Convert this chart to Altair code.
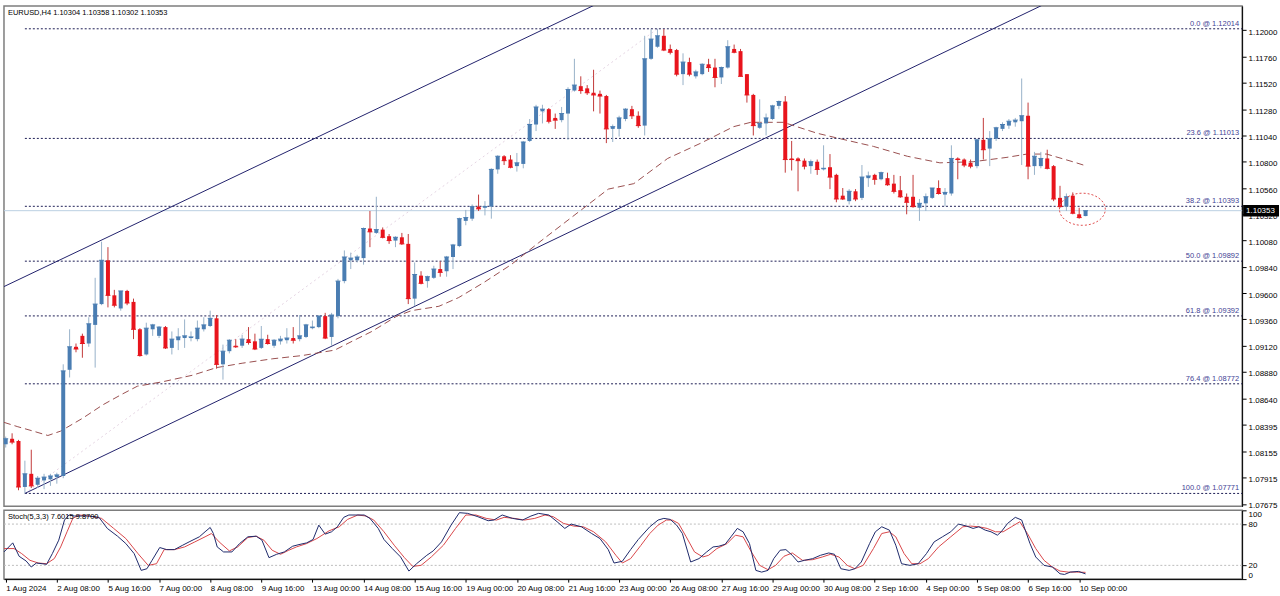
import altair as alt
import pandas as pd

# ---------------- data ----------------
opens = [1.0822,1.0827,1.0825,1.0783,1.0795,1.0785,1.0789,1.0790,1.0792,1.0793,
1.0890,1.0911,1.0921,1.0914,1.0931,1.0950,1.0990,1.0958,1.0946,1.0962,
1.0952,1.0927,1.0904,1.0927,1.0921,1.0929,1.0910,1.0917,1.0919,1.0919,
1.0918,1.0927,1.0930,1.0937,1.0895,1.0907,1.0912,1.0912,1.0918,1.0916,
1.0910,1.0918,1.0912,1.0916,1.0917,1.0919,1.0918,1.0920,1.0928,1.0929,
1.0939,1.0920,1.0939,1.0971,1.0990,1.0990,1.0992,1.1019,1.1015,1.1018,
1.1012,1.1008,1.1011,1.1005,1.0955,1.0976,1.0971,1.0974,1.0982,1.0980,
1.0993,1.1003,1.1026,1.1028,1.1039,1.1038,1.1039,1.1073,1.1085,1.1082,
1.1076,1.1078,1.1099,1.1114,1.1126,1.1128,1.1120,1.1118,1.1124,1.1145,
1.1149,1.1147,1.1143,1.1142,1.1140,1.1110,1.1110,1.1119,1.1128,1.1122,
1.1113,1.1174,1.1185,1.1195,1.1183,1.1182,1.1160,1.1171,1.1158,1.1160,
1.1169,1.1166,1.1157,1.1166,1.1183,1.1181,1.1160,1.1141,1.1111,1.1115,
1.1119,1.1131,1.1135,1.1083,1.1083,1.1081,1.1076,1.1080,1.1073,1.1075,
1.1068,1.1049,1.1044,1.1053,1.1047,1.1065,1.1068,1.1064,1.1065,1.1060,
1.1054,1.1048,1.1048,1.1038,1.1042,1.1047,1.1056,1.1050,1.1051,1.1083,
1.1082,1.1079,1.1076,1.1100,1.1092,1.1101,1.1110,1.1113,1.1116,1.1117,
1.1122,1.1076,1.1076,1.1083,1.1076,1.1047,1.1039,1.1049,1.1032,1.10304]

highs = [1.0829,1.0832,1.0826,1.0807,1.0817,1.0793,1.0795,1.0795,1.0796,1.0895,
1.0927,1.0914,1.0923,1.0938,1.0974,1.1007,1.1002,1.0963,1.0962,1.0963,
1.0955,1.0928,1.0933,1.0932,1.0930,1.0930,1.0925,1.0928,1.0936,1.0925,
1.0935,1.0938,1.0944,1.0940,1.0913,1.0918,1.0918,1.0922,1.0929,1.0923,
1.0930,1.0922,1.0918,1.0921,1.0928,1.0929,1.0940,1.0932,1.0935,1.0940,
1.0942,1.0942,1.0973,1.0999,1.0997,1.0995,1.1020,1.1035,1.1048,1.1020,
1.1014,1.1012,1.1015,1.1014,1.0988,1.0980,1.0976,1.0985,1.0989,1.0994,
1.1005,1.1029,1.1036,1.1041,1.1050,1.1044,1.1074,1.1086,1.1086,1.1086,
1.1088,1.1099,1.1119,1.1132,1.1132,1.1129,1.1124,1.1130,1.1148,1.1174,
1.1158,1.1150,1.1164,1.1145,1.1141,1.1114,1.1122,1.1129,1.1131,1.1126,
1.1195,1.1201,1.12014,1.1201,1.1187,1.1183,1.1179,1.1175,1.1164,1.1170,
1.1174,1.1174,1.1167,1.1191,1.1187,1.1183,1.1160,1.1142,1.1137,1.1124,
1.1132,1.1136,1.1140,1.1099,1.1084,1.1083,1.1082,1.1082,1.1095,1.1087,
1.1069,1.1056,1.1055,1.1055,1.1077,1.1071,1.1069,1.1071,1.1070,1.1068,
1.1067,1.1051,1.1068,1.1046,1.1051,1.1055,1.1063,1.1056,1.1095,1.1084,
1.1083,1.1082,1.1101,1.1120,1.1108,1.1112,1.1116,1.1119,1.1120,1.1156,
1.1134,1.1089,1.1089,1.1091,1.1077,1.1058,1.1051,1.1052,1.1038,1.10358]

lows = [1.0819,1.0822,1.0780,1.07771,1.0782,1.0782,1.0781,1.0784,1.0786,1.0791,
1.0883,1.0906,1.0901,1.0911,1.0892,1.0949,1.0947,1.0947,1.0944,1.0949,
1.0918,1.0902,1.0903,1.0921,1.0919,1.0909,1.0904,1.0908,1.0910,1.0916,
1.0916,1.0925,1.0929,1.0891,1.0881,1.0905,1.0910,1.0910,1.0913,1.0908,
1.0909,1.0913,1.0910,1.0913,1.0914,1.0914,1.0916,1.0919,1.0927,1.0928,
1.0918,1.0912,1.0937,1.0969,1.0982,1.0988,1.0986,1.1002,1.1014,1.1010,
1.1005,1.1002,1.1004,1.0950,1.0948,1.0968,1.0965,1.0973,1.0975,1.0975,
1.0982,1.1002,1.1022,1.1026,1.1035,1.1031,1.1028,1.1069,1.1077,1.1074,
1.1071,1.1074,1.1098,1.1108,1.1115,1.1115,1.1110,1.1116,1.1100,1.1144,
1.1142,1.1141,1.1126,1.1124,1.1097,1.1098,1.1103,1.1117,1.1119,1.1111,
1.1104,1.1173,1.1184,1.1181,1.1178,1.1158,1.1150,1.1158,1.1156,1.1159,
1.1162,1.1148,1.1151,1.1165,1.1179,1.1158,1.1134,1.1104,1.1110,1.1104,
1.1118,1.1128,1.1070,1.1072,1.1053,1.1073,1.1069,1.1068,1.1072,1.1055,
1.1043,1.1045,1.1041,1.1044,1.1045,1.1057,1.1059,1.1063,1.1058,1.1051,
1.1047,1.1032,1.1038,1.1026,1.1035,1.1046,1.1050,1.1039,1.1049,1.1064,
1.1075,1.1074,1.1074,1.1082,1.1076,1.1099,1.1108,1.1110,1.1112,1.1077,
1.1064,1.1068,1.1074,1.1073,1.1044,1.1038,1.1035,1.1032,1.1028,1.10302]

closes = [1.0827,1.0824,1.0783,1.0795,1.0784,1.0791,1.0792,1.0793,1.0794,1.0889,
1.0911,1.0909,1.0914,1.0932,1.0950,1.0990,1.0958,1.0949,1.0962,1.0951,
1.0927,1.0903,1.0928,1.0931,1.0929,1.0910,1.0918,1.0920,1.0921,1.0920,
1.0928,1.0931,1.0937,1.0895,1.0907,1.0917,1.0911,1.0918,1.0915,1.0909,
1.0918,1.0914,1.0917,1.0918,1.0919,1.0917,1.0921,1.0931,1.0929,1.0939,
1.0919,1.0940,1.0971,1.0993,1.0992,1.0993,1.1019,1.1016,1.1018,1.1011,
1.1008,1.1011,1.1005,1.0955,1.0977,1.0969,1.0975,1.0982,1.0979,1.0993,
1.1004,1.1028,1.1029,1.1039,1.1037,1.1039,1.1073,1.1085,1.1081,1.1075,
1.1079,1.1098,1.1114,1.1130,1.1128,1.1117,1.1118,1.1124,1.1146,1.1150,
1.1145,1.1143,1.1141,1.1140,1.1110,1.1112,1.1120,1.1128,1.1122,1.1113,
1.1174,1.1192,1.1195,1.1182,1.1180,1.1160,1.1171,1.1160,1.1162,1.1169,
1.1166,1.1157,1.1166,1.1185,1.1180,1.1158,1.1141,1.1113,1.1115,1.1120,
1.1131,1.1135,1.1082,1.1082,1.1081,1.1076,1.1080,1.1073,1.1074,1.1066,
1.1046,1.1046,1.1053,1.1046,1.1066,1.1067,1.1064,1.1070,1.1059,1.1053,
1.1048,1.1043,1.1039,1.1042,1.1048,1.1056,1.1051,1.1052,1.1083,1.1082,
1.1077,1.1076,1.1100,1.1091,1.1101,1.1111,1.1114,1.1117,1.1118,1.1122,
1.1076,1.1085,1.1083,1.1074,1.1046,1.1039,1.1048,1.1033,1.1029,1.10353]

bar_number = list(range(len(opens)))   # H4 bars from 1 Aug 2024 00:00

date_ticks = [0,8,16,24,32,40,48,56,64,72,80,88,96,104,112,120,128,136,144,152,160,168]
date_labels = ["1 Aug 2024","2 Aug 08:00","5 Aug 16:00","7 Aug 00:00","8 Aug 08:00",
               "9 Aug 16:00","13 Aug 00:00","14 Aug 08:00","15 Aug 16:00","19 Aug 00:00",
               "20 Aug 08:00","21 Aug 16:00","23 Aug 00:00","26 Aug 08:00","27 Aug 16:00",
               "29 Aug 00:00","30 Aug 08:00","2 Sep 16:00","4 Sep 00:00","5 Sep 08:00",
               "6 Sep 16:00","10 Sep 00:00"]

ma_bar = [-0.27,1.9,4.3,6.6,8.6,12.1,15.2,18.3,20.6,24.5,29.2,33.0,37.0,41.7,46.4,51.5,54.2,57.3,
          61.2,63.5,67.8,70.9,74.9,79.1,83.4,87.4,94.3,98.3,103.6,108.8,113.9,116.6,121.7,127.0,
          130.6,135.8,141.1,146.2,151.4,156.7,159.8,162.9,167.0,169.2]
ma_value = [1.0842,1.0838,1.0834,1.0830,1.0834,1.0846,1.0858,1.0868,1.0875,1.0879,1.0885,1.0892,
            1.0896,1.0900,1.0903,1.0908,1.0916,1.0925,1.0939,1.0944,1.0948,1.0956,1.0970,1.0986,
            1.1006,1.1024,1.1055,1.1060,1.1083,1.1097,1.1112,1.1116,1.1116,1.1106,1.1101,1.1094,
            1.1085,1.1079,1.1080,1.1084,1.1087,1.1087,1.1080,1.1076]

k_bar = [-0.27,1.1,2.1,3.2,4.0,4.8,5.7,6.4,7.3,8.3,9.2,9.9,10.8,11.8,13.1,14.6,15.9,17.5,18.8,20.1,
         21.2,22.1,22.9,24.1,25.2,26.4,27.7,28.7,30.3,31.2,32.0,32.5,33.1,34.1,35.4,36.6,37.9,39.2,
         40.1,41.2,42.4,43.6,44.9,45.9,47.1,48.1,49.0,50.0,51.0,51.9,52.9,53.7,54.8,56.1,57.0,58.3,
         59.2,60.5,61.8,63.1,64.3,65.9,66.9,68.2,69.7,71.0,72.3,73.9,75.5,76.4,77.7,79.3,80.9,82.2,
         83.4,85.0,86.3,87.5,88.5,90.1,91.7,93.0,94.3,95.2,96.5,97.8,99.0,100.8,102.1,103.0,104.0,
         105.0,105.9,107.2,108.5,109.7,110.7,111.6,112.6,113.5,114.5,115.4,116.4,117.4,118.3,119.3,
         120.2,121.2,122.1,123.1,124.0,125.0,126.3,127.5,128.8,129.7,130.7,132.0,132.9,133.9,135.2,
         136.1,137.1,138.3,139.3,140.2,141.5,142.8,144.1,145.3,146.6,147.9,149.1,150.4,151.4,152.3,
         153.3,154.2,155.2,155.8,156.8,158.0,159.0,160.3,161.2,162.5,163.8,165.0,165.7,166.6,167.9,
         169.0]
k_value = [39.5,52.7,33.2,26.3,17.6,23.4,22.4,21.5,37.1,56.6,85.9,93.2,91.7,91.7,91.7,89.8,73.7,62.4,
           51.7,37.1,12.7,15.1,27.3,45.9,42.9,42.9,49.3,54.1,61.5,68.8,75.1,66.3,46.8,39.5,39.5,51.7,
           61.5,62.4,56.6,31.2,36.1,39.5,47.8,50.2,52.7,57.6,78.5,65.4,68.8,76.1,89.8,93.2,93.2,93.2,
           88.3,73.7,57.6,44.4,32.2,11.7,22.4,34.6,41.0,54.1,78.5,96.6,95.6,90.7,84.9,85.9,93.2,88.3,
           85.9,91.7,95.6,93.2,83.4,73.7,80.0,76.1,66.3,59.0,42.9,23.4,25.9,42.9,57.6,76.1,85.9,88.3,
           86.8,78.5,66.3,24.9,29.8,39.5,46.8,47.8,50.7,61.5,73.7,68.8,51.7,12.7,10.2,12.7,29.8,42.0,
           42.9,34.6,24.9,27.3,29.8,34.6,38.0,36.1,15.1,12.7,15.1,24.9,51.7,68.8,76.1,71.2,49.3,22.4,
           20.0,22.4,37.1,54.1,61.5,68.8,80.0,77.1,73.7,76.1,71.2,68.8,63.9,68.8,81.0,89.8,85.9,51.7,
           32.2,20.0,17.6,7.8,6.8,10.2,11.2,7.6]

d_bar = [-0.27,1.3,2.5,3.8,5.1,6.4,7.6,8.6,9.6,10.5,11.5,13.1,15.0,16.9,18.8,20.7,22.3,23.6,24.8,26.4,
         28.0,29.6,31.2,32.2,33.4,35.0,36.3,37.9,39.2,40.4,41.7,43.0,44.3,45.5,47.1,48.7,50.6,52.2,
         53.5,55.1,56.4,57.6,59.2,60.8,62.4,63.7,65.0,66.6,68.5,70.4,72.0,73.6,75.2,76.8,78.0,79.6,
         81.2,82.8,84.4,85.7,87.3,88.9,90.4,92.0,93.9,95.5,96.5,97.8,99.4,100.8,102.1,103.4,104.3,
         105.3,106.5,107.8,109.1,110.0,111.3,112.9,114.2,115.4,116.7,118.0,119.3,120.5,121.8,123.1,
         124.7,126.3,127.8,129.1,130.4,131.7,132.9,134.2,135.8,137.1,138.3,139.3,140.6,141.8,143.1,
         144.4,146.0,147.9,149.8,151.0,152.3,153.6,154.9,156.1,157.4,158.7,159.9,161.2,162.5,163.8,
         165.0,166.3,167.6,169.0]
d_value = [44.4,44.4,37.1,27.3,23.4,22.4,29.8,46.8,68.8,88.3,93.2,91.7,88.3,73.7,59.0,37.1,20.0,22.4,
           42.9,42.9,46.8,54.1,61.5,66.3,54.1,41.0,46.8,60.5,62.4,56.6,42.0,36.1,42.0,46.8,51.7,59.0,
           70.2,76.1,86.8,93.2,91.7,85.9,68.8,49.3,31.2,18.5,20.0,32.2,49.3,73.7,93.2,93.2,88.3,85.9,
           89.8,88.3,85.9,88.3,93.2,90.7,81.0,77.1,76.1,68.8,54.1,34.6,23.4,29.8,49.0,66.3,78.5,85.9,
           85.9,81.0,61.5,39.5,32.2,34.6,44.4,51.7,63.9,61.5,39.5,20.0,13.7,20.0,33.2,38.0,27.3,28.3,
           32.2,36.1,32.2,20.0,15.1,20.0,44.4,66.3,68.8,61.5,37.1,22.4,22.4,29.8,46.8,61.5,76.1,77.1,
           76.1,73.7,68.8,68.8,76.1,83.4,66.3,44.4,27.3,17.6,11.7,10.2,10.2,9.87]

fib_prices = [1.12014, 1.11013, 1.10393, 1.09892, 1.09392, 1.08772, 1.07771]
fib_texts = ["0.0 @ 1.12014", "23.6 @ 1.11013", "38.2 @ 1.10393", "50.0 @ 1.09892",
             "61.8 @ 1.09392", "76.4 @ 1.08772", "100.0 @ 1.07771"]
price_ticks = [1.12000, 1.11760, 1.11520, 1.11280, 1.11040, 1.10800, 1.10560, 1.10320, 1.10080,
               1.09840, 1.09600, 1.09360, 1.09120, 1.08880, 1.08640, 1.08395, 1.08155, 1.07915, 1.07675]

channel_name = ["upper", "upper", "lower", "lower"]
channel_bar = [-0.27, 93.2, 3.0, 162.6]
channel_price = [1.0966, 1.1226, 1.07771, 1.1224]

fib_trend_bar = [3, 102]
fib_trend_price = [1.07771, 1.12014]

last_price = 1.10353
last_text = "1.10353"
title_text = "EURUSD,H4  1.10304 1.10358 1.10302 1.10353"
stoch_text = "Stoch(5,3,3) 7.6015 9.8700"
stoch_levels = [20, 80]
stoch_ticks = [0, 20, 80, 100]
circle_bar = [168.5]
circle_price = [1.10366]

# ---------------- chart ----------------
FONT = "Liberation Sans"
W = 1242
H_MAIN = 502
H_STOCH = 69
X_DOMAIN = [-0.27, 193.5]
Y_DOMAIN = [1.07653, 1.12223]

xs = alt.Scale(domain=X_DOMAIN, nice=False, zero=False)
ys = alt.Scale(domain=Y_DOMAIN, nice=False, zero=False)
y_axis = alt.Axis(values=price_ticks, format=".5f", orient="right", title=None, grid=False,
                  labelFont=FONT, labelFontSize=8, labelColor="#000000", tickSize=4,
                  tickColor="#000000", domainColor="#000000", labelPadding=2, labelOffset=2,
                  labelOverlap=False)

candles = pd.DataFrame({"bar": bar_number, "o": opens, "h": highs, "l": lows, "c": closes})
up = candles[candles["c"] >= candles["o"]]
down = candles[candles["c"] < candles["o"]]

UP_BODY, UP_WICK = "#4a7db2", "#98b2c9"
DN_BODY, DN_WICK = "#e8141c", "#c23a3a"

X = lambda f: alt.X(f, type="quantitative", scale=xs, axis=None)
Y = lambda f: alt.Y(f, type="quantitative", scale=ys, axis=y_axis)

fib_df = pd.DataFrame({"p": fib_prices, "t": fib_texts, "x0": [3] * 7, "x1": [X_DOMAIN[1]] * 7})
fib_lines = alt.Chart(fib_df).mark_rule(color="#1e1e55", strokeDash=[2, 2], strokeWidth=1).encode(
    x=X("x0"), x2="x1", y=Y("p"))
fib_labels = alt.Chart(fib_df).mark_text(align="right", baseline="bottom", dy=-1, font=FONT,
                                         fontSize=7.5, color="#3f3f95").encode(
    x=alt.value(W - 3), y=Y("p"), text="t")

last_df = pd.DataFrame({"p": [last_price], "t": [last_text],
                        "top": [last_price + 0.00052], "bot": [last_price - 0.00052]})
last_line = alt.Chart(last_df).mark_rule(color="#bcd0e2", strokeWidth=1).encode(y=Y("p"))

chan_df = pd.DataFrame({"name": channel_name, "bar": channel_bar, "p": channel_price})
channels = alt.Chart(chan_df).mark_line(color="#22226c", strokeWidth=1, clip=True).encode(
    x=X("bar"), y=Y("p"), detail="name")

trend_df = pd.DataFrame({"bar": fib_trend_bar, "p": fib_trend_price})
fib_trend = alt.Chart(trend_df).mark_line(color="#e4d4e2", strokeDash=[2, 3], strokeWidth=1).encode(
    x=X("bar"), y=Y("p"))

ma_df = pd.DataFrame({"bar": ma_bar, "p": ma_value})
ma_line = alt.Chart(ma_df).mark_line(color="#9a5050", strokeDash=[7, 4], strokeWidth=1).encode(
    x=X("bar"), y=Y("p"))


def candle_layers(df, body, wick):
    w = alt.Chart(df).mark_rule(strokeWidth=1, color=wick).encode(x=X("bar"), y=Y("l"), y2="h")
    b = alt.Chart(df).mark_rule(strokeWidth=4, strokeCap="butt", color=body).encode(
        x=X("bar"), y=Y("o"), y2="c")
    e = alt.Chart(df).mark_tick(orient="horizontal", size=5, thickness=1, color=body,
                                opacity=1).encode(x=X("bar"), y=Y("c"))
    return [w, b, e]


circle_df = pd.DataFrame({"bar": circle_bar, "p": circle_price})
ellipse = alt.Chart(circle_df).mark_point(
    shape="M -1 0 A 1 0.7 0 1 1 1 0 A 1 0.7 0 1 1 -1 0 Z", size=2116, filled=False,
    color="#e05050", strokeDash=[2, 2], strokeWidth=1, opacity=1).encode(
    x=X("bar"), y=Y("p"))

price_box = alt.Chart(last_df).mark_rect(color="#000000").encode(
    x=alt.value(W + 1), x2=alt.value(W + 37), y=Y("top"), y2="bot")
price_txt = alt.Chart(last_df).mark_text(align="left", baseline="middle", font=FONT, fontSize=8,
                                         color="#ffffff").encode(
    x=alt.value(W + 4), y=Y("p"), text="t")

title = alt.Chart(pd.DataFrame({"t": [title_text]})).mark_text(
    align="left", baseline="top", font=FONT, fontSize=7.5, color="#000000").encode(
    x=alt.value(4), y=alt.value(3), text="t")

main = alt.layer(fib_trend, last_line, fib_lines, fib_labels, channels, ma_line,
                 *candle_layers(up, UP_BODY, UP_WICK), *candle_layers(down, DN_BODY, DN_WICK),
                 ellipse, price_box, price_txt, title).properties(width=W, height=H_MAIN)

# stochastic panel
ss = alt.Scale(domain=[0, 100], nice=False, zero=False)
s_axis = alt.Axis(values=stoch_ticks, format="d", orient="right", title=None, grid=False,
                  labelFont=FONT, labelFontSize=8, labelColor="#000000", tickSize=4,
                  tickColor="#000000", domainColor="#000000", labelPadding=2, labelFlush=True,
                  labelFlushOffset=0)
label_expr = "[" + ",".join("'" + s + "'" for s in date_labels) + "][round(datum.value / 8)]"
x_axis = alt.Axis(values=date_ticks, labelExpr=label_expr, title=None, grid=False,
                  labelFont=FONT, labelFontSize=8, labelColor="#000000", labelAlign="left",
                  labelPadding=2, tickSize=3, tickColor="#000000", domainColor="#000000",
                  labelOverlap=False, labelFlush=False, labelBound=False)
XS = lambda f: alt.X(f, type="quantitative", scale=xs, axis=x_axis)
YS = lambda f: alt.Y(f, type="quantitative", scale=ss, axis=s_axis)

lvl_df = pd.DataFrame({"v": stoch_levels})
levels = alt.Chart(lvl_df).mark_rule(color="#bdbdbd", strokeDash=[2, 2]).encode(y=YS("v"))
k_df = pd.DataFrame({"bar": k_bar, "v": k_value})
d_df = pd.DataFrame({"bar": d_bar, "v": d_value})
k_line = alt.Chart(k_df).mark_line(color="#1f2a6b", strokeWidth=1).encode(x=XS("bar"), y=YS("v"))
d_line = alt.Chart(d_df).mark_line(color="#d9474a", strokeWidth=1).encode(x=XS("bar"), y=YS("v"))
s_title = alt.Chart(pd.DataFrame({"t": [stoch_text]})).mark_text(
    align="left", baseline="top", font=FONT, fontSize=7.5, color="#000000").encode(
    x=alt.value(4), y=alt.value(3), text="t")

stoch = alt.layer(levels, d_line, k_line, s_title).properties(width=W, height=H_STOCH)

chart = alt.vconcat(main, stoch, spacing=4, bounds="flush").properties(
    padding={"left": 1, "top": 4, "right": 0, "bottom": 0},
    background="#ffffff"
).configure_view(stroke="#7d7d7d", strokeWidth=1.5)

chart.save("out.html", embed_options={"renderer": "svg", "actions": False})
